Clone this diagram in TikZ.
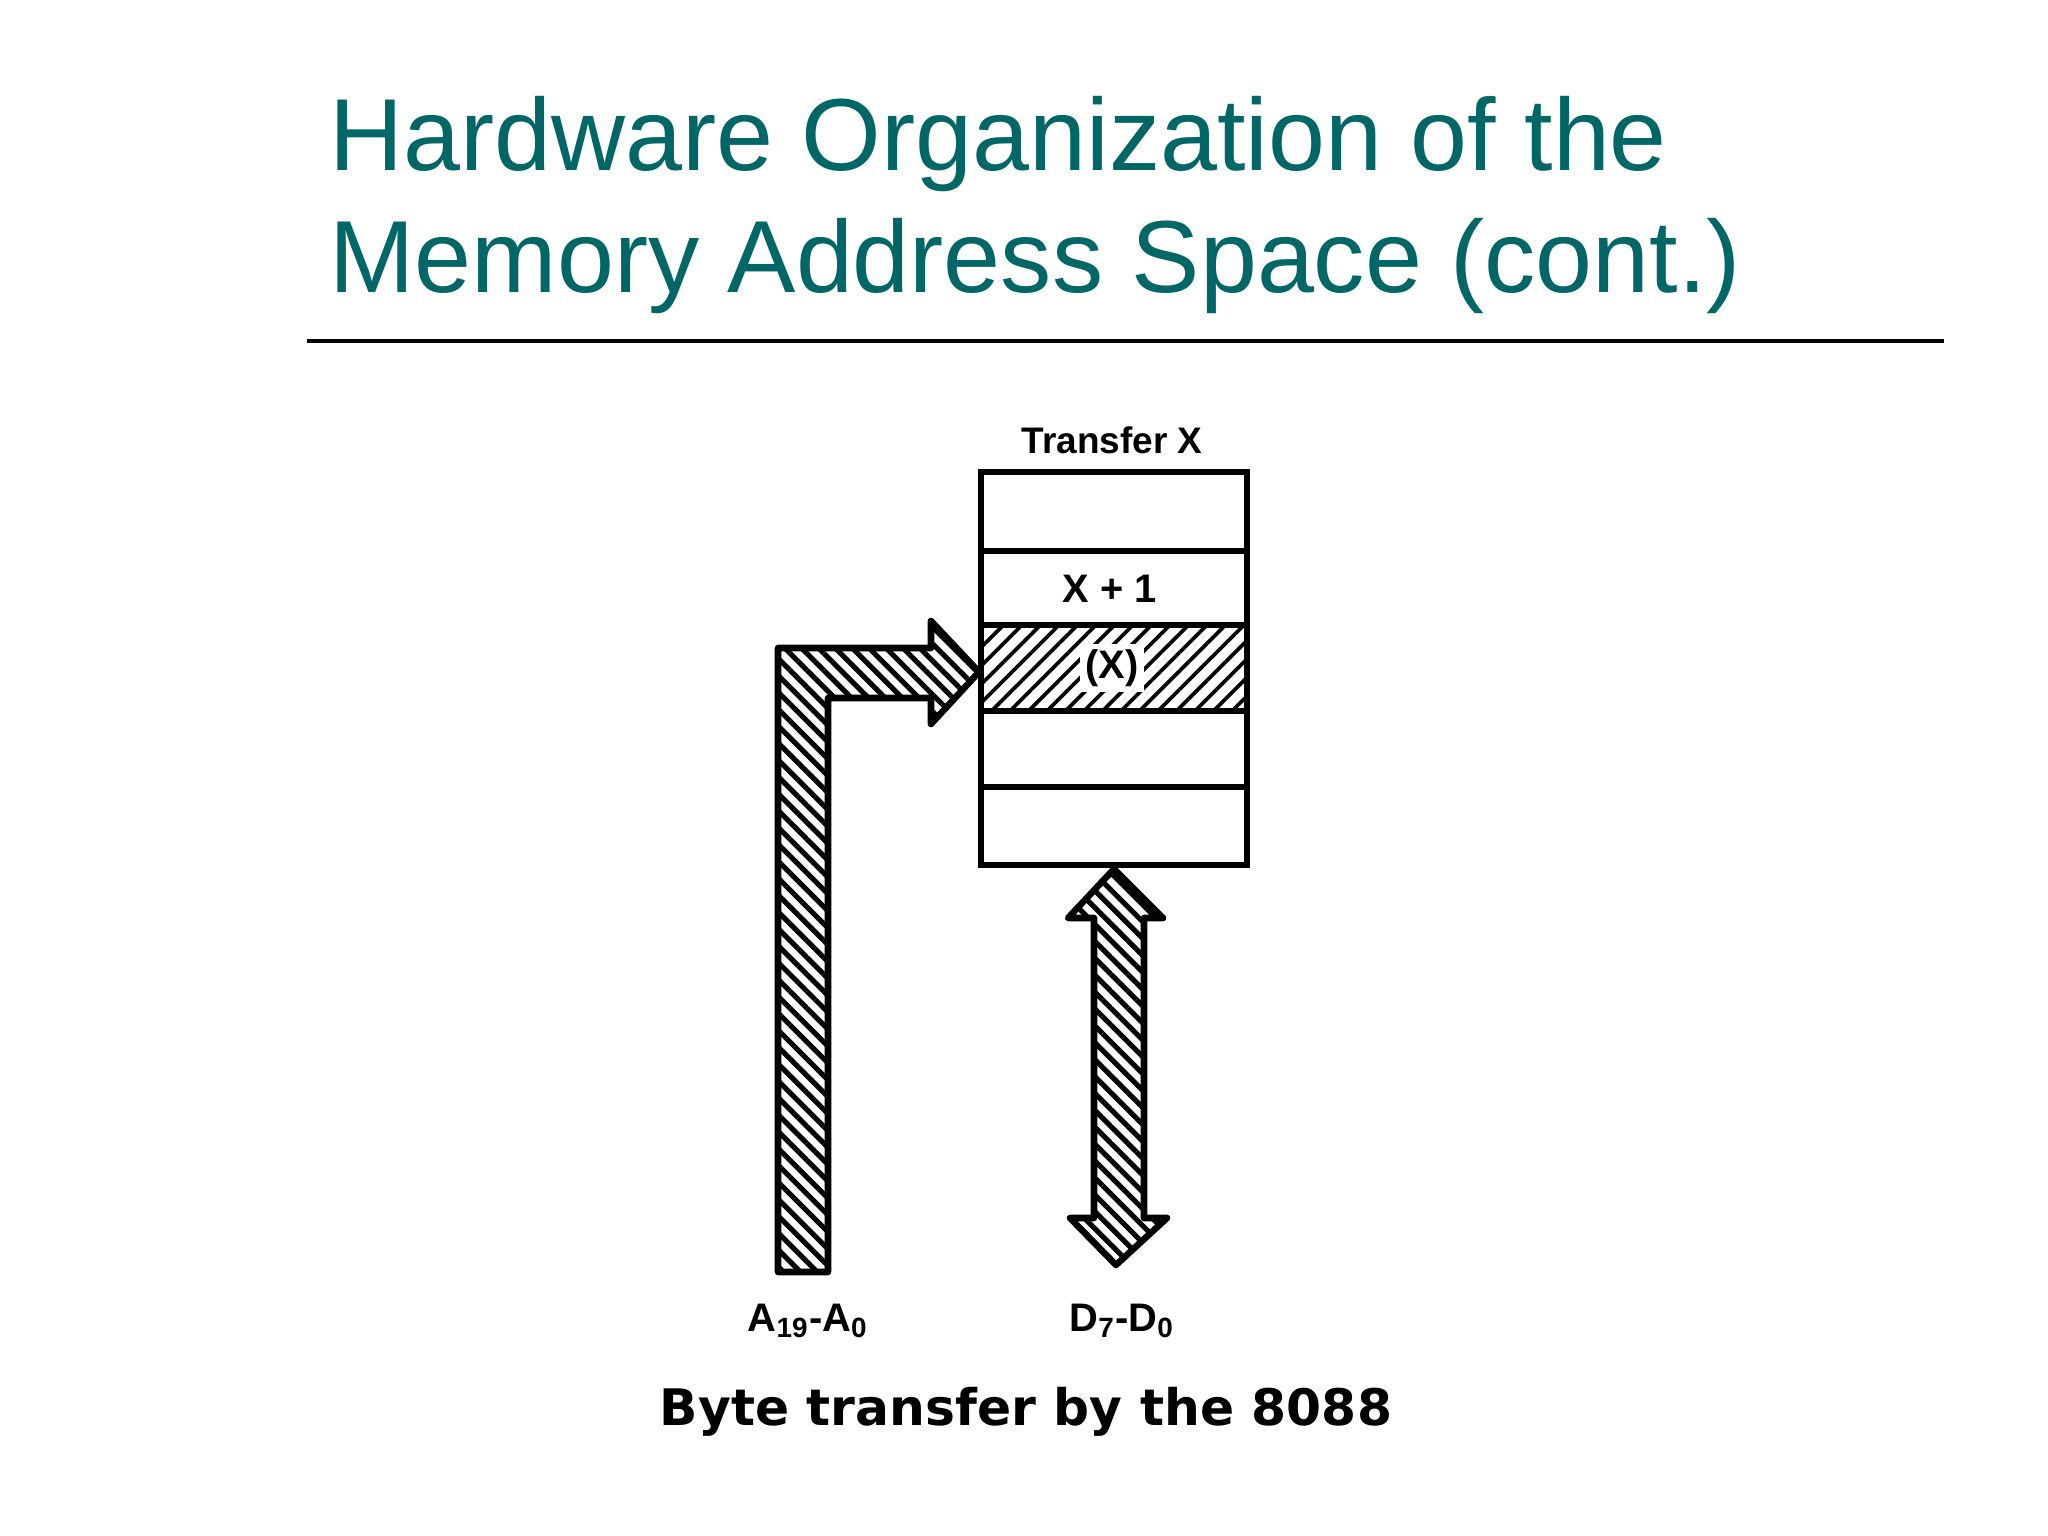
\documentclass[tikz,border=0pt]{standalone}
\usepackage{fontspec}
\setmainfont{Liberation Sans}
\newfontfamily\captionfont{DejaVu Sans}
\usetikzlibrary{patterns.meta}
\definecolor{titleteal}{RGB}{0,102,102}
\tikzset{
    busarrow/.style={draw=black, line width=2.3pt, line join=round,
        pattern={Lines[angle=-45,distance=4.2pt,line width=1.8pt]}},
    memline/.style={draw=black, line width=2.3pt},
    figtext/.style={font=\fontsize{13}{15}\selectfont\bfseries, inner sep=0pt}
}
\begin{document}
\begin{tikzpicture}[x=0.35156pt, y=-0.35156pt]
    \fill[white] (0,0) rectangle (2048,1536);
    \useasboundingbox (0,0) rectangle (2048,1536);
    % title and rule
    \node[anchor=base west, inner sep=0pt, text=titleteal, font=\fontsize{36}{43}\selectfont] (title1) at (329,171) {Hardware Organization of the};
    \node[anchor=base west, inner sep=0pt, text=titleteal, font=\fontsize{36}{43}\selectfont] (title2) at (329,293) {Memory Address Space (cont.)};
    \draw[line width=1.4pt] (307,341) -- (1944,341);
    % memory locations
    \fill[pattern={Lines[angle=45,distance=4.6pt,line width=1.3pt]}] (981,625) rectangle (1247,711);
    \draw[memline] (981,472) rectangle (1247,865);
    \foreach \y in {551,625,711,787}
        \draw[memline] (981,\y) -- (1247,\y);
    \node[figtext, anchor=base] (transfer) at (1112,454) {Transfer X};
    \node[figtext, font=\fontsize{14}{16}\selectfont\bfseries] (next) at (1110,589) {X + 1};
    \node[figtext, font=\fontsize{14}{16}\selectfont\bfseries, fill=white, inner sep=2pt] (cellx) at (1112,668) {(X)};
    % address bus
    \draw[busarrow] (778,1272) -- (778,648) -- (931,648) -- (931,621) -- (979,672) -- (931,724) -- (931,698) -- (828,698) -- (828,1272) -- cycle;
    % data bus
    \draw[busarrow] (1114,869) -- (1163,918) -- (1144,918) -- (1144,1218) -- (1167,1218) -- (1116,1265) -- (1070,1218) -- (1094,1218) -- (1094,918) -- (1068,918) -- cycle;
    \node[figtext, font=\fontsize{14}{16}\selectfont\bfseries, anchor=base] (abus) at (808,1331) {A\textsubscript{19}-A\textsubscript{0}};
    \node[figtext, font=\fontsize{14}{16}\selectfont\bfseries, anchor=base] (dbus) at (1122,1331) {D\textsubscript{7}-D\textsubscript{0}};
    % caption
    \node[anchor=base, inner sep=0pt, font=\captionfont\fontsize{17.7}{20}\selectfont\bfseries] (caption) at (1026,1425) {Byte transfer by the 8088};
\end{tikzpicture}
\end{document}
